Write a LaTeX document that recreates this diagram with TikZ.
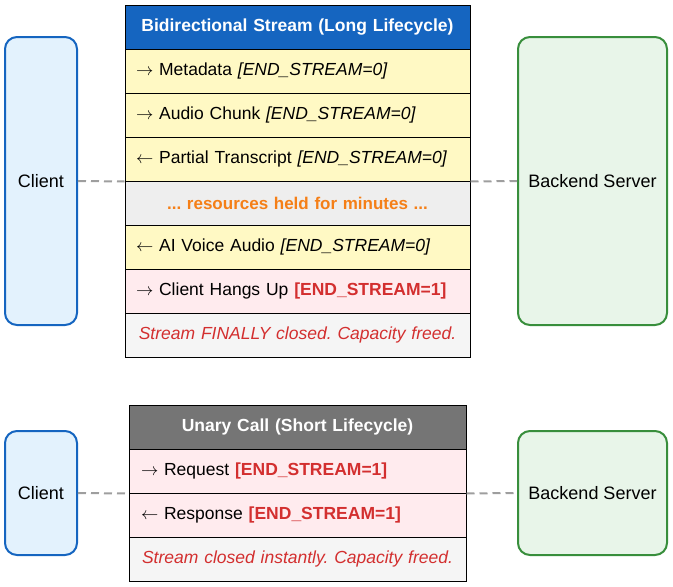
\documentclass[tikz,border=0pt]{standalone}
\usepackage{fontspec}
\setmainfont{Liberation Sans}
\newcommand{\ra}{$\rightarrow$}
\newcommand{\la}{$\leftarrow$}
\frenchspacing
\definecolor{hblue}{HTML}{1565C0}
\definecolor{hgray}{HTML}{757575}
\definecolor{ryel}{HTML}{FFF9C4}
\definecolor{rgray}{HTML}{EEEEEE}
\definecolor{rpink}{HTML}{FFEBEE}
\definecolor{rlight}{HTML}{F5F5F5}
\definecolor{tred}{HTML}{D32F2F}
\definecolor{torange}{HTML}{F57F17}
\definecolor{cfill}{HTML}{E3F2FD}
\definecolor{sfill}{HTML}{E8F5E9}
\definecolor{sgreen}{HTML}{388E3C}
\definecolor{dgray}{HTML}{9E9E9E}
\begin{document}
\begin{tikzpicture}[x=1pt,y=-1pt,
  rowbox/.style={draw=black, line width=1pt, rectangle, minimum height=44pt, inner ysep=0pt,
    align=left, font=\fontsize{17.5}{20}\selectfont},
  toprow/.style={rowbox, text width=323pt, inner xsep=11pt},
  botrow/.style={rowbox, text width=313pt, inner xsep=12pt},
  headrow/.style={align=center, text=white, font=\bfseries\fontsize{17.5}{20}\selectfont},
  centrow/.style={align=center},
  actor/.style={draw, rounded corners=12pt, line width=2pt, font=\fontsize{18}{20}\selectfont},
  client/.style={actor, draw=hblue, fill=cfill, minimum width=72pt},
  server/.style={actor, draw=sgreen, fill=sfill, minimum width=149pt},
  dashline/.style={draw=dgray, line width=2pt, dash pattern=on 8pt off 5pt}
]
\useasboundingbox (0,0) rectangle (673,587);
% top table
\node[toprow, headrow, fill=hblue] (h1) at (297.5,27) {Bidirectional Stream (Long Lifecycle)};
\node[toprow, fill=ryel] (r1) at (297.5,71) {\ra\ Metadata \textit{[END\_STREAM=0]}};
\node[toprow, fill=ryel] (r2) at (297.5,115) {\ra\ Audio Chunk \textit{[END\_STREAM=0]}};
\node[toprow, fill=ryel] (r3) at (297.5,159) {\la\ Partial Transcript \textit{[END\_STREAM=0]}};
\node[toprow, centrow, fill=rgray, text=torange, font=\bfseries\fontsize{17}{20}\selectfont] (r4) at (297.5,203) {... resources held for minutes ...};
\node[toprow, fill=ryel] (r5) at (297.5,247) {\la\ AI Voice Audio \textit{[END\_STREAM=0]}};
\node[toprow, fill=rpink] (r6) at (297.5,291) {\ra\ Client Hangs Up \textcolor{tred}{\bfseries [END\_STREAM=1]}};
\node[toprow, centrow, fill=rlight, text=tred, font=\itshape\fontsize{17.5}{20}\selectfont] (r7) at (297.5,335) {Stream FINALLY closed. Capacity freed.};
\node[client, minimum height=288pt] (c1) at (41,181) {Client};
\node[server, minimum height=288pt] (s1) at (592.5,181) {Backend Server};
\draw[dashline] (c1.east) -- (r3.south west);
\draw[dashline] (r3.south east) -- (s1.west);
% bottom table
\node[botrow, headrow, fill=hgray] (h2) at (297.5,427) {Unary Call (Short Lifecycle)};
\node[botrow, fill=rpink] (u1) at (297.5,471) {\ra\ Request \textcolor{tred}{\bfseries [END\_STREAM=1]}};
\node[botrow, fill=rpink] (u2) at (297.5,515) {\la\ Response \textcolor{tred}{\bfseries [END\_STREAM=1]}};
\node[botrow, centrow, fill=rlight, text=tred, font=\itshape\fontsize{17.5}{20}\selectfont] (u3) at (297.5,559) {Stream closed instantly. Capacity freed.};
\node[client, minimum height=124pt] (c2) at (41,493) {Client};
\node[server, minimum height=124pt] (s2) at (592.5,493) {Backend Server};
\draw[dashline] (c2.east) -- (u1.south west);
\draw[dashline] (u1.south east) -- (s2.west);
\end{tikzpicture}
\end{document}
